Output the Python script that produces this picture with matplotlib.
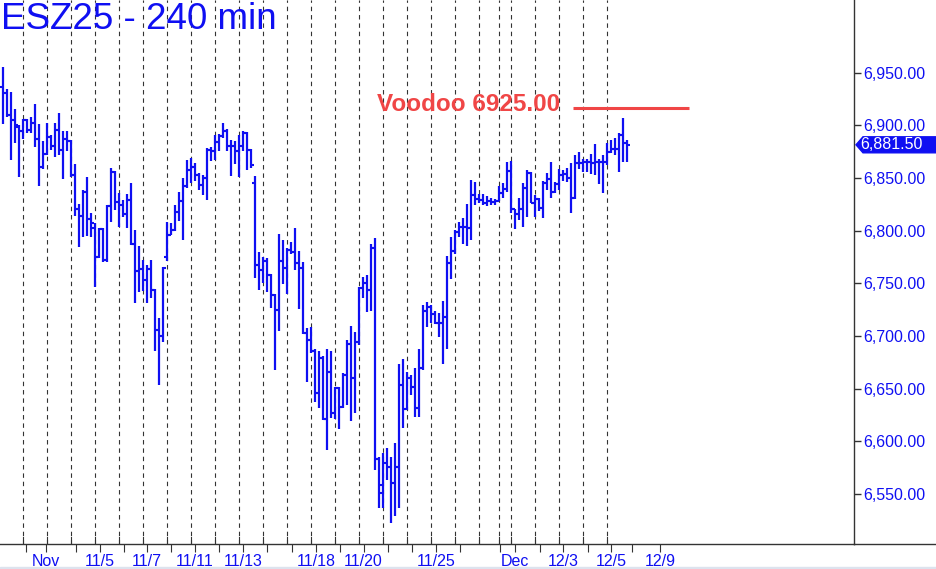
import numpy as np
import matplotlib.pyplot as plt
from matplotlib.lines import Line2D
from matplotlib.patches import Polygon, Rectangle
from matplotlib.transforms import blended_transform_factory

plt.rcParams['font.family'] = ['Liberation Sans', 'DejaVu Sans']

# 240-min bars, ESZ25
opens = [6936.7, 6930.3, 6909.8, 6905.0, 6898.7, 6894.9, 6905.0, 6895.5, 6901.8, 6887.0,
         6860.7, 6872.8, 6889.2, 6880.4, 6895.5, 6876.6, 6887.0, 6885.4, 6852.8, 6820.3,
         6813.9, 6837.0, 6810.8, 6802.2, 6774.7, 6801.3, 6772.2, 6823.7, 6856.0, 6827.5,
         6824.4, 6815.8, 6829.1, 6787.4, 6761.4, 6764.0, 6752.9, 6764.0, 6744.0, 6706.1,
         6699.7, 6775.0, 6796.2, 6801.0, 6817.7, 6828.5, 6842.1, 6857.9, 6860.1, 6853.1,
         6843.7, 6850.0, 6876.9, 6875.3, 6884.1, 6889.5, 6894.3, 6880.0, 6880.0, 6875.3,
         6880.0, 6892.7, 6876.9, 6845.0, 6767.4, 6762.7, 6771.2, 6758.0, 6739.0, 6724.7,
         6771.2, 6764.9, 6781.7, 6779.5, 6769.0, 6764.9, 6702.6, 6696.3, 6685.8, 6645.7,
         6679.5, 6621.3, 6666.2, 6626.7, 6650.4, 6633.0, 6663.0, 6692.2, 6659.9, 6694.7,
         6745.9, 6750.0, 6743.7, 6783.9, 6583.4, 6558.7, 6579.2, 6575.5, 6560.3, 6575.5,
         6653.6, 6630.5, 6659.9, 6651.4, 6632.1, 6669.4, 6723.8, 6727.9, 6720.9, 6712.7,
         6712.7, 6717.8, 6769.0, 6781.0, 6799.1, 6803.8, 6803.2, 6802.2, 6833.9, 6829.7,
         6829.1, 6826.6, 6828.5, 6827.5, 6828.5, 6836.1, 6839.2, 6856.9, 6820.3, 6815.8,
         6820.3, 6840.2, 6855.0, 6826.6, 6829.7, 6821.2, 6845.5, 6848.7, 6837.0, 6844.3,
         6852.8, 6853.8, 6849.7, 6830.7, 6864.5, 6863.9, 6865.5, 6865.5, 6863.9, 6865.5,
         6865.5, 6865.5, 6875.0, 6877.2, 6877.2, 6890.8, 6882.9]
highs = [6955.0, 6934.1, 6931.3, 6915.1, 6900.3, 6905.6, 6905.6, 6907.6, 6920.2, 6900.9,
         6885.0, 6901.8, 6890.8, 6901.8, 6912.0, 6894.6, 6894.6, 6886.0, 6862.9, 6825.3,
         6838.6, 6850.6, 6816.5, 6806.9, 6802.2, 6802.2, 6824.4, 6859.2, 6857.0, 6836.0,
         6829.1, 6834.5, 6845.2, 6801.0, 6785.1, 6772.5, 6767.8, 6772.5, 6745.0, 6717.1,
         6765.2, 6808.2, 6807.3, 6824.1, 6836.7, 6850.0, 6867.4, 6869.0, 6864.2, 6854.7,
         6853.1, 6878.5, 6879.1, 6891.1, 6891.7, 6902.2, 6896.8, 6886.4, 6884.8, 6891.1,
         6894.3, 6893.6, 6877.5, 6851.6, 6780.1, 6775.4, 6773.8, 6758.6, 6739.6, 6796.5,
         6791.2, 6783.3, 6789.0, 6802.2, 6780.7, 6770.0, 6707.3, 6708.9, 6687.7, 6685.8,
         6681.4, 6687.7, 6685.8, 6652.0, 6652.0, 6664.6, 6696.7, 6709.9, 6703.6, 6746.9,
         6756.4, 6758.0, 6787.0, 6792.8, 6585.0, 6588.7, 6593.5, 6585.6, 6598.8, 6673.5,
         6677.9, 6666.2, 6663.0, 6669.4, 6687.4, 6729.5, 6732.6, 6729.5, 6724.1, 6721.6,
         6733.3, 6776.0, 6793.7, 6800.7, 6808.6, 6811.7, 6825.3, 6848.1, 6846.5, 6834.8,
         6834.8, 6832.9, 6830.7, 6829.7, 6842.4, 6845.6, 6865.5, 6866.0, 6821.0, 6830.7,
         6844.9, 6857.6, 6856.0, 6833.9, 6830.7, 6847.5, 6854.4, 6865.5, 6846.5, 6858.2,
         6857.6, 6859.2, 6863.9, 6871.8, 6875.0, 6867.7, 6867.7, 6872.8, 6882.2, 6867.7,
         6871.8, 6883.5, 6886.0, 6887.6, 6892.4, 6906.6, 6886.0]
lows = [6900.9, 6908.0, 6867.1, 6882.9, 6850.6, 6887.3, 6892.4, 6892.4, 6879.1, 6842.7,
        6859.0, 6871.8, 6876.6, 6870.2, 6871.8, 6848.7, 6875.6, 6851.0, 6813.9, 6784.8,
        6794.3, 6795.3, 6793.7, 6746.9, 6774.0, 6770.6, 6770.6, 6808.6, 6819.6, 6803.8,
        6813.3, 6802.9, 6786.7, 6731.4, 6741.8, 6742.4, 6731.4, 6736.1, 6685.5, 6653.9,
        6694.4, 6770.9, 6795.6, 6800.0, 6809.5, 6791.5, 6840.5, 6845.2, 6846.8, 6838.9,
        6834.2, 6829.4, 6865.8, 6867.4, 6875.3, 6888.0, 6875.3, 6851.6, 6863.3, 6850.6,
        6875.3, 6857.9, 6859.5, 6755.0, 6743.7, 6750.1, 6742.1, 6727.0, 6667.8, 6704.8,
        6749.1, 6739.6, 6777.6, 6762.7, 6725.4, 6701.6, 6656.7, 6683.6, 6637.1, 6632.1,
        6620.4, 6591.9, 6622.0, 6621.3, 6611.8, 6632.0, 6634.6, 6619.4, 6626.7, 6691.5,
        6736.4, 6722.5, 6723.8, 6572.9, 6536.5, 6536.5, 6563.4, 6522.3, 6529.3, 6536.5,
        6612.5, 6630.0, 6644.1, 6623.5, 6623.5, 6668.0, 6708.9, 6712.7, 6711.5, 6699.4,
        6673.2, 6687.4, 6753.8, 6777.9, 6793.7, 6787.4, 6785.8, 6791.2, 6824.4, 6826.6,
        6824.4, 6823.4, 6824.4, 6824.4, 6828.0, 6830.7, 6837.0, 6816.5, 6801.3, 6810.1,
        6803.8, 6812.7, 6826.0, 6812.7, 6819.0, 6811.7, 6838.6, 6830.7, 6835.4, 6838.6,
        6847.5, 6846.5, 6816.5, 6829.7, 6858.2, 6856.0, 6856.0, 6853.8, 6852.8, 6844.3,
        6835.4, 6862.3, 6874.0, 6871.8, 6856.0, 6865.5, 6865.5]
closes = [6930.3, 6909.8, 6905.0, 6900.3, 6894.9, 6905.0, 6895.5, 6901.8, 6887.0, 6860.7,
          6872.8, 6889.2, 6880.4, 6895.5, 6876.6, 6887.0, 6885.4, 6852.8, 6820.3, 6813.9,
          6837.0, 6810.8, 6806.9, 6774.7, 6801.3, 6772.2, 6823.7, 6856.0, 6827.5, 6824.4,
          6815.8, 6829.1, 6787.4, 6761.4, 6764.0, 6752.9, 6764.0, 6744.0, 6706.1, 6699.7,
          6764.6, 6796.2, 6801.0, 6817.7, 6828.5, 6842.1, 6857.9, 6860.1, 6853.1, 6843.7,
          6850.0, 6876.9, 6875.3, 6884.1, 6889.5, 6894.3, 6880.0, 6880.0, 6875.3, 6880.0,
          6892.7, 6876.9, 6862.0, 6767.4, 6762.7, 6771.2, 6758.0, 6739.0, 6724.7, 6771.2,
          6764.9, 6781.7, 6779.5, 6769.0, 6764.9, 6702.6, 6696.3, 6685.8, 6645.7, 6679.5,
          6621.3, 6666.2, 6626.7, 6650.4, 6633.0, 6663.0, 6692.2, 6659.9, 6694.7, 6745.9,
          6750.0, 6743.7, 6783.9, 6583.4, 6550.8, 6579.2, 6575.5, 6560.3, 6575.5, 6653.6,
          6630.5, 6659.9, 6651.4, 6632.1, 6669.4, 6723.8, 6727.9, 6720.9, 6712.7, 6712.7,
          6717.8, 6769.0, 6781.0, 6799.1, 6803.8, 6803.2, 6802.2, 6833.9, 6829.7, 6829.1,
          6826.6, 6828.5, 6827.5, 6828.5, 6836.1, 6839.2, 6856.9, 6820.3, 6815.8, 6820.3,
          6840.2, 6855.0, 6826.6, 6829.7, 6821.2, 6845.5, 6848.7, 6837.0, 6844.3, 6852.8,
          6853.8, 6849.7, 6830.7, 6864.5, 6863.9, 6865.5, 6865.5, 6863.9, 6865.5, 6865.5,
          6865.5, 6875.0, 6877.2, 6877.2, 6890.8, 6882.9, 6881.5]

# last bar of each session (dashed separators follow these bars)
session_breaks = [5, 11, 17, 23, 29, 35, 41, 47, 53, 59, 65, 71, 77, 83, 89, 95,
                  101, 107, 113, 119, 124, 127, 133, 139, 145, 151]

date_labels = ['Nov', '11/5', '11/7', '11/11', '11/13', '11/18', '11/20', '11/25',
               'Dec', '12/3', '12/5', '12/9']
date_label_pos = [10.9, 24.2, 36.0, 48.0, 60.1, 78.3, 90.2, 108.3, 128.1, 140.1, 152.1, 164.3]
date_minor_pos = [5.9, 18.3, 30.2, 42.1, 54.1, 66.1, 72.2, 84.2, 96.2, 102.2, 114.2,
                  124.4, 134.4, 146.3, 157.2]

price_ticks = list(range(6550, 6951, 50))
voodoo_text = 'Voodoo 6925.00'
voodoo_level = 6916.7
voodoo_span = (142.6, 171.6)

BLUE = '#0F0FF2'
RED = '#F04646'
GREY = '#333333'

W, H = 936, 569
fig = plt.figure(figsize=(W / 100, H / 100), dpi=100)
ax = fig.add_axes([0, 25 / H, 854 / W, 544 / H])

x = np.arange(len(closes))
ax.vlines(x, lows, highs, color=BLUE, lw=1.6, zorder=3)
ax.hlines(opens, x - 0.7, x, color=BLUE, lw=1.5, zorder=3)
ax.hlines(closes, x, x + 0.7, color=BLUE, lw=1.5, zorder=3)

xt = ax.get_xaxis_transform()
for b in session_breaks:
    ax.axvline(b + 0.15, color=GREY, lw=0.8, ls=(0, (4, 3.5)), zorder=1)
    ax.plot([b + 0.15, b + 0.15], [0, 7 / 544], color=GREY, lw=0.8, transform=xt)

ax.plot(voodoo_span, [voodoo_level, voodoo_level], color=RED, lw=2.2, solid_capstyle='butt')
ax.text(139.3, 6919.8, voodoo_text, ha='right', va='center', color=RED,
        fontsize=17.5, fontweight='bold', zorder=4)

ax.set_xlim(-0.675, 212.825)
ax.set_ylim(6502.7, 7018.9)

for s in ['left', 'top']:
    ax.spines[s].set_visible(False)
for s in ['right', 'bottom']:
    ax.spines[s].set_color(GREY)
    ax.spines[s].set_linewidth(1)

ax.yaxis.tick_right()
ax.set_yticks(price_ticks)
ax.set_yticklabels([f'{v:,.2f}' for v in price_ticks])
ax.tick_params(axis='y', direction='out', length=5, width=1, color=GREY, pad=2,
               labelcolor=BLUE, labelsize=11.5)

ax.set_xticks(date_label_pos)
ax.set_xticklabels(date_labels)
ax.set_xticks(date_minor_pos, minor=True)
ax.tick_params(axis='x', which='both', direction='out', length=6, width=0.8, color=GREY,
               pad=1, labelcolor=BLUE, labelsize=11.5)

# bottom axis runs under the price scale too
fig.add_artist(Line2D([854 / W, 1], [25 / H, 25 / H], color=GREY, lw=1))
fig.add_artist(Rectangle((0, 0), 1, 2 / H, transform=fig.transFigure, color='#DDE3EE'))

# last price marker
last = closes[-1]
tr = blended_transform_factory(fig.transFigure, ax.transData)
hh = 8 * 0.9488
tag = Polygon([(856 / W, last), (863 / W, last + hh), (1, last + hh), (1, last - hh),
               (863 / W, last - hh)], closed=True, transform=tr, color=BLUE, clip_on=False)
fig.add_artist(tag)
fig.text(860 / W, last, f'{last:,.2f}', transform=tr, color='white', fontsize=11.5,
         va='center', ha='left')

fig.text(0.001, 1 - 2 / H, 'ESZ25 - 240 min', color=BLUE, fontsize=26.5, va='top', ha='left')

fig.savefig('out.png', dpi=100)
